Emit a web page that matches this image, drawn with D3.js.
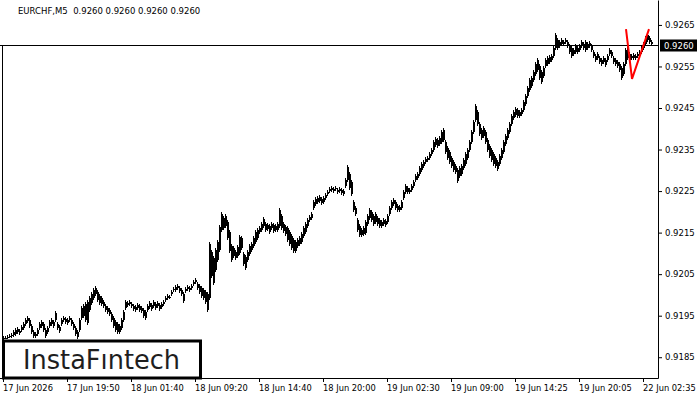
<!DOCTYPE html>
<html>
<head>
<meta charset="utf-8">
<script src="https://cdn.jsdelivr.net/npm/d3@7"></script>
<style>
  body { margin: 0; background: #fff; }
  svg text { font-family: "DejaVu Sans", sans-serif; }
</style>
</head>
<body>
<div id="chart"></div>
<script>
var titleText = "EURCHF,M5  0.9260 0.9260 0.9260 0.9260";
var lastPrice = 0.9260;

// bar highs / lows (one bar per 2px column)
var highs = [
  0.91902,0.91902,0.91904,0.91906,0.91909,0.91916,0.91921,0.91923,0.91918,0.91928,
  0.91935,0.91945,0.91950,0.91945,0.91930,0.91916,0.91911,0.91921,0.91935,0.91940,
  0.91935,0.91921,0.91926,0.91940,0.91945,0.91940,0.91962,0.91935,0.91928,0.91945,
  0.91950,0.91947,0.91945,0.91950,0.91945,0.91935,0.91926,0.91916,0.91945,0.91974,
  0.91978,0.91983,0.91988,0.91998,0.92007,0.92017,0.92022,0.92012,0.92002,0.91998,
  0.91988,0.91978,0.91974,0.91969,0.91959,0.91950,0.91940,0.91935,0.91930,0.91945,
  0.91964,0.91988,0.91986,0.91988,0.91983,0.91978,0.91976,0.91981,0.91978,0.91974,
  0.91969,0.91964,0.91978,0.91986,0.91981,0.91988,0.91983,0.91986,0.91981,0.91983,
  0.91988,0.91998,0.92002,0.92000,0.92012,0.92019,0.92024,0.92026,0.92022,0.92017,
  0.92007,0.92019,0.92024,0.92022,0.92026,0.92036,0.92041,0.92031,0.92026,0.92022,
  0.92017,0.92012,0.92007,0.92127,0.92108,0.92094,0.92113,0.92132,0.92168,0.92199,
  0.92190,0.92194,0.92180,0.92156,0.92122,0.92118,0.92108,0.92120,0.92144,0.92142,
  0.92103,0.92096,0.92108,0.92122,0.92127,0.92142,0.92156,0.92161,0.92166,0.92175,
  0.92187,0.92175,0.92173,0.92170,0.92175,0.92173,0.92170,0.92175,0.92209,0.92194,
  0.92175,0.92168,0.92166,0.92156,0.92146,0.92137,0.92132,0.92137,0.92142,0.92151,
  0.92166,0.92175,0.92185,0.92192,0.92199,0.92228,0.92235,0.92238,0.92240,0.92235,
  0.92238,0.92246,0.92253,0.92260,0.92262,0.92260,0.92262,0.92258,0.92260,0.92258,
  0.92255,0.92282,0.92313,0.92296,0.92277,0.92228,0.92214,0.92185,0.92170,0.92161,
  0.92166,0.92180,0.92194,0.92209,0.92204,0.92194,0.92199,0.92190,0.92185,0.92180,
  0.92185,0.92182,0.92194,0.92214,0.92228,0.92233,0.92228,0.92219,0.92216,0.92228,
  0.92253,0.92267,0.92262,0.92258,0.92267,0.92277,0.92291,0.92296,0.92310,0.92320,
  0.92325,0.92332,0.92334,0.92344,0.92354,0.92373,0.92380,0.92378,0.92383,0.92397,
  0.92402,0.92373,0.92358,0.92349,0.92334,0.92325,0.92315,0.92306,0.92310,0.92315,
  0.92330,0.92344,0.92354,0.92373,0.92397,0.92421,0.92459,0.92445,0.92416,0.92402,
  0.92407,0.92397,0.92378,0.92363,0.92354,0.92344,0.92334,0.92325,0.92339,0.92354,
  0.92373,0.92387,0.92402,0.92416,0.92435,0.92445,0.92452,0.92450,0.92445,0.92450,
  0.92469,0.92484,0.92503,0.92522,0.92527,0.92541,0.92561,0.92570,0.92556,0.92541,
  0.92551,0.92570,0.92575,0.92578,0.92580,0.92599,0.92631,0.92619,0.92614,0.92619,
  0.92614,0.92619,0.92614,0.92604,0.92599,0.92594,0.92604,0.92599,0.92604,0.92614,
  0.92609,0.92614,0.92609,0.92611,0.92604,0.92590,0.92580,0.92585,0.92575,0.92570,
  0.92575,0.92570,0.92580,0.92594,0.92590,0.92575,0.92570,0.92566,0.92561,0.92551,
  0.92561,0.92594,0.92599,0.92585,0.92580,0.92582,0.92580,0.92585,0.92590,0.92599,
  0.92609,0.92624,0.92631,0.92624,0.92614
];
var lows = [
  0.91891,0.91894,0.91894,0.91897,0.91897,0.91899,0.91902,0.91906,0.91904,0.91911,
  0.91916,0.91926,0.91933,0.91921,0.91906,0.91897,0.91897,0.91902,0.91916,0.91921,
  0.91911,0.91897,0.91906,0.91921,0.91926,0.91921,0.91935,0.91916,0.91909,0.91926,
  0.91935,0.91930,0.91928,0.91935,0.91926,0.91916,0.91902,0.91894,0.91911,0.91940,
  0.91945,0.91935,0.91928,0.91959,0.91976,0.91988,0.91998,0.91983,0.91976,0.91974,
  0.91969,0.91959,0.91954,0.91950,0.91935,0.91921,0.91911,0.91906,0.91906,0.91916,
  0.91935,0.91964,0.91971,0.91974,0.91969,0.91962,0.91959,0.91964,0.91959,0.91957,
  0.91945,0.91940,0.91959,0.91966,0.91962,0.91969,0.91964,0.91969,0.91962,0.91966,
  0.91974,0.91983,0.91988,0.91990,0.91998,0.92007,0.92007,0.92012,0.92005,0.91998,
  0.91981,0.92005,0.92010,0.92007,0.92012,0.92022,0.92026,0.92012,0.92002,0.91993,
  0.91988,0.91978,0.91959,0.91988,0.92041,0.92024,0.92055,0.92079,0.92103,0.92151,
  0.92156,0.92161,0.92132,0.92101,0.92079,0.92089,0.92084,0.92089,0.92096,0.92108,
  0.92070,0.92060,0.92079,0.92094,0.92103,0.92113,0.92122,0.92132,0.92146,0.92151,
  0.92161,0.92151,0.92154,0.92146,0.92156,0.92149,0.92151,0.92151,0.92161,0.92156,
  0.92149,0.92142,0.92127,0.92118,0.92108,0.92101,0.92101,0.92113,0.92118,0.92122,
  0.92137,0.92146,0.92161,0.92175,0.92180,0.92204,0.92214,0.92218,0.92221,0.92216,
  0.92218,0.92228,0.92238,0.92246,0.92248,0.92246,0.92251,0.92243,0.92246,0.92240,
  0.92238,0.92258,0.92272,0.92253,0.92238,0.92199,0.92190,0.92151,0.92139,0.92139,
  0.92142,0.92144,0.92166,0.92180,0.92175,0.92166,0.92170,0.92166,0.92161,0.92161,
  0.92166,0.92163,0.92170,0.92190,0.92204,0.92214,0.92204,0.92199,0.92199,0.92204,
  0.92228,0.92243,0.92243,0.92243,0.92248,0.92258,0.92272,0.92277,0.92286,0.92296,
  0.92306,0.92315,0.92320,0.92325,0.92334,0.92344,0.92356,0.92354,0.92358,0.92363,
  0.92368,0.92339,0.92325,0.92315,0.92306,0.92296,0.92291,0.92270,0.92282,0.92286,
  0.92301,0.92310,0.92325,0.92344,0.92363,0.92387,0.92416,0.92407,0.92383,0.92373,
  0.92378,0.92363,0.92344,0.92330,0.92320,0.92310,0.92306,0.92298,0.92310,0.92325,
  0.92339,0.92358,0.92373,0.92387,0.92407,0.92421,0.92428,0.92426,0.92426,0.92431,
  0.92440,0.92455,0.92474,0.92488,0.92498,0.92513,0.92527,0.92537,0.92517,0.92508,
  0.92522,0.92546,0.92551,0.92556,0.92561,0.92570,0.92590,0.92590,0.92594,0.92599,
  0.92599,0.92604,0.92594,0.92580,0.92570,0.92575,0.92580,0.92580,0.92585,0.92594,
  0.92590,0.92585,0.92590,0.92594,0.92585,0.92570,0.92561,0.92566,0.92556,0.92551,
  0.92556,0.92549,0.92561,0.92575,0.92570,0.92556,0.92551,0.92546,0.92537,0.92517,
  0.92527,0.92551,0.92566,0.92561,0.92566,0.92566,0.92566,0.92570,0.92570,0.92580,
  0.92590,0.92599,0.92609,0.92604,0.92600
];

var timeTickIndex = [0, 32, 64, 96, 128, 160, 192, 224, 256, 288, 320];
var timeLabels = ["17 Jun 2026", "17 Jun 19:50", "18 Jun 01:40", "18 Jun 09:20", "18 Jun 14:40",
  "18 Jun 20:00", "19 Jun 02:30", "19 Jun 09:00", "19 Jun 14:25", "19 Jun 20:05", "22 Jun 02:35"];
var priceTicks = [0.9265, 0.9255, 0.9245, 0.9235, 0.9225, 0.9215, 0.9205, 0.9195, 0.9185];

// red pattern marker (bar index, price)
var patternIndex = [311, 314, 322.5];
var patternPrice = [0.9264, 0.9252, 0.9264];

var svgWidth = 700;
var svgHeight = 400;
var plotRight = 658.5;
var plotBottom = 378.5;

var svg = d3.select("#chart")
  .append("svg")
  .attr("width", svgWidth)
  .attr("height", svgHeight);

// scales
var xScale = d3.scaleLinear()
  .domain([0, highs.length - 1])
  .range([3, 3 + 2 * (highs.length - 1)]);

var yScale = d3.scaleLinear()
  .domain([0.9180, 0.9271])
  .range([378, 0]);

// bars: thin high-low line plus a 1px close step, like the terminal draws them
var barG = svg.append("g").attr("shape-rendering", "crispEdges");
barG.selectAll("rect.hl")
  .data(highs)
  .enter()
  .append("rect")
  .attr("class", "hl")
  .attr("x", (d, i) => xScale(i))
  .attr("y", d => Math.round(yScale(d)))
  .attr("width", 1)
  .attr("height", (d, i) => Math.max(1, Math.round(yScale(lows[i])) - Math.round(yScale(d))))
  .attr("fill", "#000");
barG.selectAll("rect.mid")
  .data(highs)
  .enter()
  .append("rect")
  .attr("class", "mid")
  .attr("x", (d, i) => xScale(i) + 1)
  .attr("y", (d, i) => Math.round(yScale(d)) + 2)
  .attr("width", 1)
  .attr("height", (d, i) => Math.max(1, Math.round(yScale(lows[i])) - Math.round(yScale(d)) - 4))
  .attr("fill", "#000");

// current price line
var yLast = Math.round(yScale(lastPrice)) - 0.5;
svg.append("line")
  .attr("x1", 0).attr("x2", plotRight)
  .attr("y1", yLast).attr("y2", yLast)
  .attr("stroke", "#000");

// pattern
var patternLine = d3.line()
  .x(d => xScale(d[0]) + 1)
  .y(d => yScale(d[1]));
svg.append("path")
  .attr("d", patternLine(patternIndex.map((d, i) => [d, patternPrice[i]])))
  .attr("fill", "none")
  .attr("stroke", "#ff0000")
  .attr("stroke-width", 2);

// frame
svg.append("line")
  .attr("x1", 0).attr("x2", plotRight)
  .attr("y1", plotBottom).attr("y2", plotBottom)
  .attr("stroke", "#000");
svg.append("line")
  .attr("x1", 2.5).attr("x2", 2.5)
  .attr("y1", yLast).attr("y2", plotBottom)
  .attr("stroke", "#000");

// y axis on the right
var rightAxis = d3.axisRight(yScale)
  .tickValues(priceTicks)
  .tickFormat(d3.format(".4f"))
  .tickSize(4)
  .tickSizeOuter(0);
var yAxisG = svg.append("g")
  .attr("transform", `translate(${plotRight - 0.5}, 0)`)
  .call(rightAxis);
yAxisG.selectAll("text").attr("font-size", 8.5).attr("fill", "#000").attr("font-family", "DejaVu Sans");
yAxisG.selectAll("line,path").attr("stroke", "#000");

// x axis
var bottomAxis = d3.axisBottom(xScale)
  .tickValues(timeTickIndex)
  .tickFormat((d, i) => timeLabels[i])
  .tickSize(4)
  .tickSizeOuter(0);
var xAxisG = svg.append("g")
  .attr("transform", `translate(0, ${plotBottom - 0.5})`)
  .call(bottomAxis);
xAxisG.select(".domain").remove();
xAxisG.selectAll("line").attr("stroke", "#000");
xAxisG.selectAll("text")
  .attr("text-anchor", "start")
  .attr("x", -0.5)
  .attr("font-size", 8.3)
  .attr("fill", "#000")
  .attr("font-family", "DejaVu Sans");

// price box
svg.append("rect")
  .attr("x", 660).attr("y", yLast - 6)
  .attr("width", 37).attr("height", 12)
  .attr("fill", "#000");
svg.append("text")
  .attr("x", 664).attr("y", yLast + 3.5)
  .attr("font-size", 8.5)
  .attr("fill", "#fff")
  .text(d3.format(".4f")(lastPrice));

// title
svg.append("text")
  .attr("x", 18).attr("y", 14)
  .attr("font-size", 8.5)
  .attr("fill", "#000")
  .attr("xml:space", "preserve")
  .style("white-space", "pre")
  .text(titleText);

// logo box
svg.append("rect")
  .attr("x", 3.5).attr("y", 341)
  .attr("width", 197).attr("height", 37)
  .attr("fill", "#fff")
  .attr("stroke", "#000")
  .attr("stroke-width", 3);
svg.append("text")
  .attr("x", 23).attr("y", 369)
  .attr("font-family", "Inter, 'Open Sans', sans-serif")
  .attr("font-weight", 500)
  .attr("font-size", 26)
  .attr("fill", "#1e1e1e")
  .attr("textLength", 157)
  .attr("lengthAdjust", "spacingAndGlyphs")
  .text("InstaFıntech");
</script>
</body>
</html>
